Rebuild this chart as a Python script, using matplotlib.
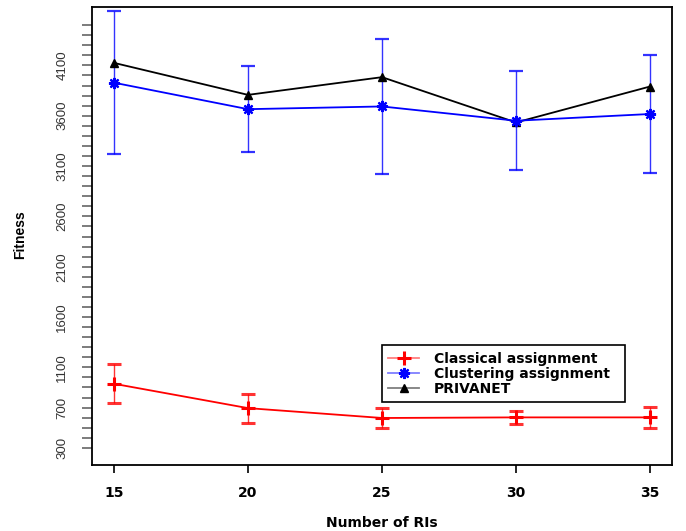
import numpy as np
import matplotlib.pyplot as plt
from matplotlib.lines import Line2D

# data
nb_ri = [15, 20, 25, 30, 35]
classical = [937, 695, 597, 603, 603]
classical_err = [194, 144, 96, 62, 102]
clustering = [3928, 3665, 3692, 3550, 3617]
clustering_err = [712, 428, 668, 493, 590]
privanet = [4125, 3807, 3983, 3533, 3890]
series_names = ['Classical assignment', 'Clustering assignment', 'PRIVANET']

ytick_pos = np.arange(300, 4501, 100)
ytick_labels = [300, 700, 1100, 1600, 2100, 2600, 3100, 3600, 4100]

plt.rcParams['font.family'] = ['Liberation Sans', 'DejaVu Sans']
bold_font = {'family': 'DejaVu Sans', 'weight': 'bold', 'size': 10}

W, H = 686, 531
fig = plt.figure(figsize=(6.86, 5.31), dpi=100)
ax = fig.add_axes([92/W, 1-465/H, 580/W, 458/H])

ax.errorbar(nb_ri, classical, yerr=classical_err, color='red', lw=1.3,
            marker='+', ms=10, mew=2.2, capsize=5, elinewidth=1.0,
            ecolor=(1, 0, 0, 0.8))
ax.errorbar(nb_ri, clustering, yerr=clustering_err, color='blue', lw=1.3,
            marker=(8, 2, 0), ms=8, mew=1.6, capsize=5, elinewidth=1.0,
            ecolor=(0, 0, 1, 0.8))
ax.plot(nb_ri, privanet, color='black', lw=1.3, marker='^', ms=6)

ax.set_xlim(14.18, 35.82)
ax.set_ylim(130, 4680)
ax.set_xticks(nb_ri)
ax.set_xticklabels([str(v) for v in nb_ri], fontdict=bold_font)
ax.set_yticks(ytick_pos)
ax.set_yticklabels([str(v) if v in ytick_labels else '' for v in ytick_pos],
                   rotation=90, va='center', fontsize=9.5, color='#333333')
ax.tick_params(axis='y', length=7, width=1.2, color='#666666', pad=10)
ax.tick_params(axis='x', length=6, width=1.2, color='black', pad=9)
for s in ax.spines.values():
    s.set_linewidth(1.3)

fig.text(382/W, 1-523/H, 'Number of RIs', ha='center', va='center',
         fontdict=bold_font)
fig.text(20/W, 1-235/H, 'Fitness', ha='center', va='center', rotation=90,
         fontweight='bold', fontsize=10)

handles = [
    Line2D([], [], color=(1, 0, 0, 0.5), lw=1.3, marker='+', ms=10, mew=2.2,
           mec='red'),
    Line2D([], [], color=(0, 0, 1, 0.5), lw=1.3, marker=(8, 2, 0), ms=8,
           mew=1.6, mec='blue'),
    Line2D([], [], color=(0, 0, 0, 0.5), lw=1.3, marker='^', ms=6,
           mec='black', mfc='black'),
]
leg = ax.legend(handles, series_names, loc='lower left', mode='expand',
                bbox_to_anchor=((382-92)/580, (465-402)/458, 243/580, 65/458),
                borderaxespad=0, prop=bold_font, frameon=True, fancybox=False,
                edgecolor='black', framealpha=1, borderpad=0.45,
                labelspacing=0.08, handlelength=2.2, handletextpad=1.1)
leg.get_frame().set_linewidth(1.2)

fig.savefig('out.png', dpi=100)
